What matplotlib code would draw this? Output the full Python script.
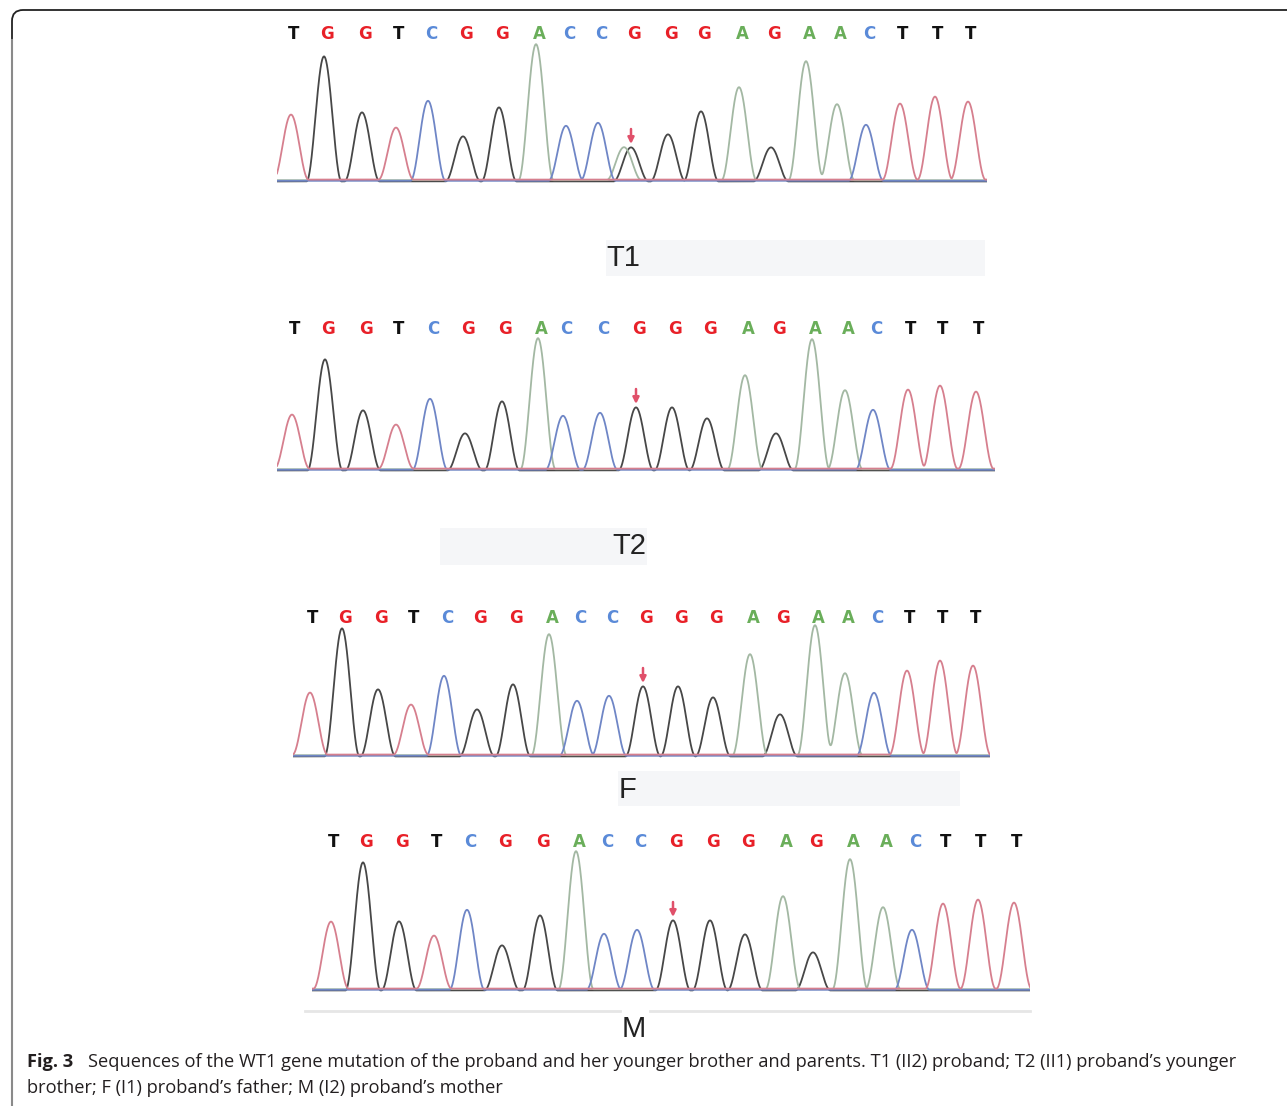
import matplotlib
matplotlib.use("Agg")
import matplotlib.pyplot as plt
import numpy as np
from matplotlib.path import Path
from matplotlib.patches import PathPatch, Rectangle

# ---------------- data ----------------
bases = list("TGGTCGGACCGGGAGAACTTT")
mut_index = 10
panel_names = ["T1", "T2", "F", "M"]

# peak positions (scan units) and peak heights
t1_scan = [0, 33, 71, 105, 137, 172, 208, 245, 275, 307, 340, 377, 410, 448, 480, 515, 546, 575, 609, 644, 677]
t1_height = [65, 125, 69, 52, 80, 45, 74, 136, 55, 58, 34, 47, 70, 93, 34, 119, 76, 56, 76, 83, 78]
t1_het_scan = 333
t1_het_base = "A"
t1_het_height = 33

t2_scan = [0, 33, 71, 104, 138, 173, 210, 246, 271, 308, 344, 380, 415, 453, 484, 520, 553, 581, 616, 648, 684]
t2_height = [54, 111, 60, 44, 71, 37, 69, 131, 54, 57, 63, 63, 52, 94, 37, 130, 79, 60, 79, 83, 77]

f_scan = [0, 32, 68, 101, 134, 167, 203, 239, 267, 299, 333, 368, 403, 440, 470, 505, 535, 564, 597, 630, 663]
f_height = [62, 128, 67, 50, 80, 47, 72, 121, 55, 60, 70, 70, 59, 101, 42, 130, 82, 63, 84, 94, 89]

m_scan = [0, 32, 68, 103, 136, 171, 209, 245, 273, 306, 342, 379, 414, 452, 482, 519, 552, 581, 612, 647, 683]
m_height = [67, 128, 69, 53, 80, 45, 75, 138, 56, 60, 70, 70, 56, 93, 38, 130, 82, 60, 85, 89, 86]

caption_bold = "Fig. 3"
caption_line1 = ("Sequences of the WT1 gene mutation of the proband and her younger brother and parents. "
                 "T1 (II2) proband; T2 (II1) proband\u2019s younger")
caption_line2 = "brother; F (I1) proband\u2019s father; M (I2) proband\u2019s mother"

# ---------------- styles ----------------
trace_color = {"A": "#a3b8a3", "C": "#6f86c6", "G": "#474747", "T": "#d67f8e"}
label_color = {"A": "#6aae5a", "C": "#5a8ad8", "G": "#e82028", "T": "#111111"}
base_offset = {"A": 1.8, "C": 1.2, "G": 0.6, "T": 2.4}

W, H = 1287, 1106
fig = plt.figure(figsize=(W / 100, H / 100), dpi=100)

# overlay axes in pixel coordinates
ov = fig.add_axes([0, 0, 1, 1])
ov.set_xlim(0, W)
ov.set_ylim(H, 0)
ov.axis("off")

# border with rounded corner
r = 11
verts = [(12, H + 5), (12, 10 + r), (12, 10), (12 + r, 10), (W + 5, 10)]
codes = [Path.MOVETO, Path.LINETO, Path.CURVE3, Path.CURVE3, Path.LINETO]
ov.add_patch(PathPatch(Path(verts, codes), fill=False, ec="#222222", lw=1.3))
ov.plot([12, 12], [40, H + 5], color="#8a8a8a", lw=1.5)

# label boxes
box_color = "#f5f6f8"
ov.add_patch(Rectangle((606, 240), 379, 36, fc=box_color, ec="none"))
ov.add_patch(Rectangle((440, 528), 207, 37, fc=box_color, ec="none"))
ov.add_patch(Rectangle((618, 771), 342, 35, fc=box_color, ec="none"))
ov.plot([305, 620], [1011, 1011], color="#e6e6e6", lw=2)
ov.plot([650, 1030], [1011, 1011], color="#e6e6e6", lw=2)

name_font = dict(family=["Liberation Sans", "DejaVu Sans"], fontsize=21, color="#222222", va="center")
ov.text(606, 258, panel_names[0], ha="left", **name_font)
ov.text(646, 546, panel_names[1], ha="right", **name_font)
ov.text(619, 790, panel_names[2], ha="left", **name_font)
ov.text(634, 1029, panel_names[3], ha="center", **name_font)

# ---------------- chromatograms ----------------
panels = [
    # scans, heights, first-peak px, left px, right px, baseline px, label height
    (t1_scan, t1_height, 291, 277, 987, 182, 148),
    (t2_scan, t2_height, 292, 277, 995, 471, 142),
    (f_scan, f_height, 310, 293, 990, 757, 139),
    (m_scan, m_height, 331, 312, 1030, 991, 149),
]
half_w = 17.5
pad_b, top = 8, 165


def peak(xs, s, h):
    d = np.clip((xs - s) / half_w, -1, 1)
    return h * np.cos(0.5 * np.pi * d) ** 2


for pi, (scan, height, x0, xl, xr, yb, lab_y) in enumerate(panels):
    ax = fig.add_axes([xl / W, 1 - (yb + pad_b) / H, (xr - xl) / W, (top + pad_b) / H])
    ax.set_xlim(xl - x0, xr - x0)
    ax.set_ylim(-pad_b, top)
    ax.axis("off")
    ax.patch.set_alpha(0)
    xs = np.linspace(xl - x0, xr - x0, 2500)
    for ch in ["G", "A", "C", "T"]:
        y = np.full_like(xs, base_offset[ch])
        for b, s, h in zip(bases, scan, height):
            if b == ch:
                y += peak(xs, s, h)
        if pi == 0 and ch == t1_het_base:
            y += peak(xs, t1_het_scan, t1_het_height)
        ax.plot(xs, y, color=trace_color[ch], lw=1.3, solid_joinstyle="round")
    for b, s in zip(bases, scan):
        ax.text(s + 3, lab_y, b, color=label_color[b], fontsize=12, fontweight="bold",
                ha="center", va="center", family="DejaVu Sans")
    ms = scan[mut_index]
    mh = height[mut_index]
    ax.annotate("", xy=(ms, mh + 4), xytext=(ms, mh + 19),
                arrowprops=dict(arrowstyle="-|>", color="#e0506a", lw=1.8, mutation_scale=9,
                                shrinkA=0, shrinkB=0))

# ---------------- caption ----------------
cap_font = ["Open Sans", "DejaVu Sans"]
renderer = fig.canvas.get_renderer()
fs0 = 13
tb = ov.text(27, 1062, caption_bold, fontsize=fs0, fontweight="bold", family=cap_font,
             color="#231f20", va="center", ha="left")
t1 = ov.text(88, 1062, caption_line1, fontsize=fs0, family=cap_font, color="#231f20",
             va="center", ha="left")
w = t1.get_window_extent(renderer).width
fs = fs0 * (1234 - 88) / w
t1.set_fontsize(fs)
tb.set_fontsize(fs)
ov.text(27, 1088, caption_line2, fontsize=fs, family=cap_font, color="#231f20",
        va="center", ha="left")

fig.savefig("out.png", dpi=100)
